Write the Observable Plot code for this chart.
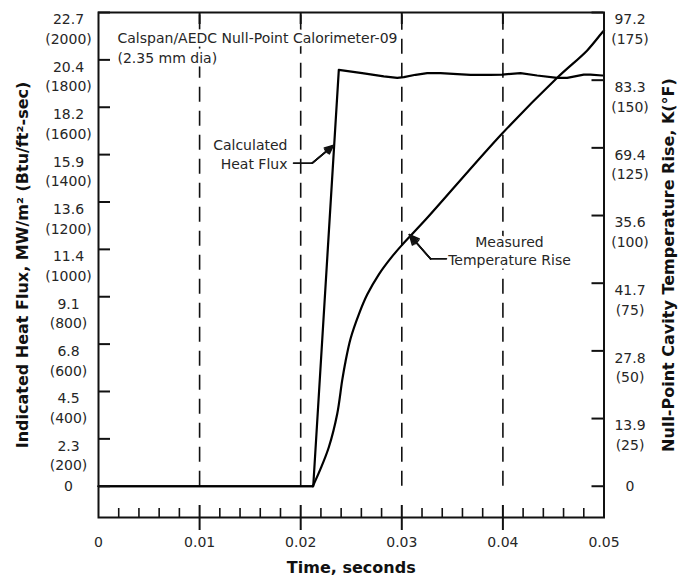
<!DOCTYPE html>
<html>
<head>
<meta charset="utf-8">
<script src="https://cdn.jsdelivr.net/npm/d3@7"></script>
<script src="https://cdn.jsdelivr.net/npm/@observablehq/plot@0.6"></script>
<style>
  html, body { margin: 0; padding: 0; background: #fff; }
  svg { display: block; }
</style>
</head>
<body>
<div id="chart"></div>
<script>
// ---- Data ----
// Calculated heat flux, Btu/ft^2-sec, vs time (s)
const fluxTime  = [0, 0.02124, 0.02377, 0.02608, 0.02822, 0.02955, 0.0302, 0.03136, 0.03251, 0.03383, 0.0355, 0.0368, 0.03877, 0.03993, 0.04174, 0.04339, 0.04537, 0.04636, 0.048, 0.04866, 0.04982, 0.05];
const fluxValue = [0, 0, 1758, 1744, 1730, 1724, 1727, 1737, 1744, 1744, 1740, 1737, 1737, 1738, 1744, 1734, 1724, 1724, 1738, 1738, 1734, 1734];

// Measured null-point cavity temperature rise, °F, vs time (s)
const tempTime  = [0, 0.0212, 0.02196, 0.02278, 0.02361, 0.0241, 0.02443, 0.02493, 0.02575, 0.02658, 0.02772, 0.02905, 0.03004, 0.03234, 0.03993, 0.04537, 0.04834, 0.04982, 0.05];
const tempValue = [0, 0, 6.4, 14.4, 26.7, 39.0, 46.0, 54.5, 63.5, 70.8, 78.2, 84.9, 89.2, 98.4, 130.3, 150.9, 161.0, 167.6, 168.3];

// Axes
const fluxTicks   = [0, 200, 400, 600, 800, 1000, 1200, 1400, 1600, 1800, 2000];
const fluxTickSI  = ["0", "2.3", "4.5", "6.8", "9.1", "11.4", "13.6", "15.9", "18.2", "20.4", "22.7"];
const tempTicks   = [0, 25, 50, 75, 100, 125, 150, 175];
const tempTickSI  = ["0", "13.9", "27.8", "41.7", "35.6", "69.4", "83.3", "97.2"];
const timeTicks   = [0, 0.01, 0.02, 0.03, 0.04, 0.05];
const timeTickLabels = ["0", "0.01", "0.02", "0.03", "0.04", "0.05"];
const gridTimes   = [0.01, 0.02, 0.03, 0.04];
const minorTimeTicks = [0.002, 0.004, 0.006, 0.008, 0.012, 0.014, 0.016, 0.018, 0.022, 0.024, 0.026, 0.028,
                        0.032, 0.034, 0.036, 0.038, 0.042, 0.044, 0.046, 0.048];

// Texts
const titleText = "Calspan/AEDC Null-Point Calorimeter-09\n(2.35 mm dia)";
const xTitle = "Time, seconds";
const yLeftTitle = "Indicated Heat Flux, MW/m\u00B2 (Btu/ft\u00B2-sec)";
const yRightTitle = "Null-Point Cavity Temperature Rise, K(\u00B0F)";
const fluxLabel = "Calculated\nHeat Flux";
const tempLabel = "Measured\nTemperature Rise";

// right axis: 175 °F sits at the top of the 2000 Btu/ft²-sec scale
const F_PER_DEGF = 2000 / 175;

// ---- Chart ----
const W = 695, H = 578, mL = 98, mR = 91.5, mT = 12, mB = 61;
const pw = W - mL - mR, ph = H - mT - mB;
const ink = "#111";
const txt = "#262626";

const fluxData = fluxTime.map((t, i) => ({t, v: fluxValue[i]}));
const tempData = tempTime.map((t, i) => ({t, v: tempValue[i] * F_PER_DEGF}));
// flat part (before onset) is drawn linearly, the rise smoothly
const tempFlat = tempData.filter(d => d.t <= 0.0212);
const tempRise = tempData.filter(d => d.t >= 0.0212);

// annotation anchors (time, heat-flux units)
const fluxNote = [{t: 0.01869, v: 1405, label: fluxLabel}];
const tempNote = [{t: 0.04065, v: 998, label: tempLabel}];
const fluxLeader = [{t: 0.01929, v: 1364}, {t: 0.02114, v: 1364}];
const fluxArrow = [{x1: 0.02114, y1: 1364, x2: 0.02321, y2: 1438}];
const tempLeader = [{t: 0.03442, v: 960}, {t: 0.03284, v: 960}];
const tempArrow = [{x1: 0.03284, y1: 960, x2: 0.03076, y2: 1062}];

function halo(data, opts) {
  return [
    Plot.text(data, {...opts, fill: "white", stroke: "white", strokeWidth: 7}),
    Plot.text(data, {...opts, fill: txt})
  ];
}
function arrowHead(data) {
  return [50, 34, 18].map(a => Plot.arrow(data, {x1: "x1", y1: "y1", x2: "x2", y2: "y2",
    stroke: ink, strokeWidth: 1.6, headLength: 10, headAngle: a}));
}

const fluxLabelFor = d => {
  const i = fluxTicks.indexOf(d);
  return d === 0 ? "0" : fluxTickSI[i] + "\n(" + d + ")";
};
const tempLabelFor = d => {
  const i = tempTicks.findIndex(v => Math.abs(v * F_PER_DEGF - d) < 1e-6);
  return tempTicks[i] === 0 ? "0" : tempTickSI[i] + "\n(" + tempTicks[i] + ")";
};

const chart = Plot.plot({
  width: W, height: H,
  marginLeft: mL, marginRight: mR, marginTop: mT, marginBottom: mB,
  style: {fontFamily: "DejaVu Sans", fontSize: "14px", color: txt, background: "white", overflow: "visible"},
  x: {domain: [0, 0.05]},
  y: {domain: [-132, 2000]},
  marks: [
    // dashed vertical grid lines
    Plot.ruleX(gridTimes, {x: d => d, y1: 0, y2: fluxTicks[fluxTicks.length - 1], stroke: ink, strokeWidth: 1.6, strokeDasharray: "15,9"}),

    // annotation texts (with white halo over grid)
    ...halo([titleText], {text: d => d, frameAnchor: "top-left", dx: 19, dy: 16, textAnchor: "start", lineAnchor: "top", lineHeight: 1.43}),
    ...halo(fluxNote, {x: "t", y: "v", text: "label", textAnchor: "end", lineAnchor: "middle", lineHeight: 1.4}),
    ...halo(tempNote, {x: "t", y: "v", text: "label", textAnchor: "middle", lineAnchor: "middle", lineHeight: 1.3}),

    // data lines
    Plot.line(fluxData, {x: "t", y: "v", stroke: "#000", strokeWidth: 2.2, strokeLinejoin: "round"}),
    Plot.line(tempFlat, {x: "t", y: "v", stroke: "#000", strokeWidth: 2.2}),
    Plot.line(tempRise, {x: "t", y: "v", curve: "catmull-rom", stroke: "#000", strokeWidth: 2.2, strokeLinejoin: "round"}),

    // leaders
    Plot.line(fluxLeader, {x: "t", y: "v", stroke: ink, strokeWidth: 1.6}),
    ...arrowHead(fluxArrow),
    Plot.line(tempLeader, {x: "t", y: "v", stroke: ink, strokeWidth: 1.6}),
    ...arrowHead(tempArrow),

    // inward ticks
    Plot.tickY(fluxTicks, {y: d => d, insetRight: pw - 12, stroke: ink, strokeWidth: 2}),
    Plot.tickY(tempTicks, {y: d => d * F_PER_DEGF, insetLeft: pw - 12, stroke: ink, strokeWidth: 2}),
    Plot.tickX(gridTimes, {x: d => d, insetBottom: ph - 12, stroke: ink, strokeWidth: 2}),
    Plot.tickX(minorTimeTicks, {x: d => d, insetTop: ph - 9, stroke: ink, strokeWidth: 1.6}),
    Plot.tickX(gridTimes, {x: d => d, insetTop: ph - 12, insetBottom: -13, stroke: ink, strokeWidth: 2}),

    // axes labels
    Plot.axisX(timeTicks, {anchor: "bottom", tickSize: 0, tickPadding: 20, label: null,
      tickFormat: d => timeTickLabels[timeTicks.indexOf(d)]}),
    Plot.axisY([0], {anchor: "left", tickSize: 0, tickPadding: 30, textAnchor: "middle", label: null, tickFormat: fluxLabelFor}),
    Plot.axisY(fluxTicks.slice(1), {anchor: "left", tickSize: 0, tickPadding: 30, textAnchor: "middle",
      lineAnchor: "top", dy: -2, lineHeight: 1.4, label: null, tickFormat: fluxLabelFor}),
    Plot.axisY([0], {anchor: "right", tickSize: 0, tickPadding: 26, textAnchor: "middle", label: null, tickFormat: tempLabelFor}),
    Plot.axisY(tempTicks.slice(1).map(v => v * F_PER_DEGF), {anchor: "right", tickSize: 0, tickPadding: 26, textAnchor: "middle",
      lineAnchor: "top", dy: -2, lineHeight: 1.4, label: null, tickFormat: tempLabelFor}),

    // frame
    Plot.frame({stroke: ink, strokeWidth: 2}),

    // axis titles
    Plot.text([xTitle], {text: d => d, frameAnchor: "bottom", dy: 50, fontWeight: "bold", fontSize: 16, fill: "#111", lineAnchor: "middle"}),
    Plot.text([yLeftTitle], {text: d => d, frameAnchor: "left", dx: -76, rotate: -90, fontWeight: "bold", fontSize: 16, fill: "#111", textAnchor: "middle"}),
    Plot.text([yRightTitle], {text: d => d, frameAnchor: "right", dx: 65, rotate: -90, fontWeight: "bold", fontSize: 16, fill: "#111", textAnchor: "middle"})
  ]
});

document.getElementById("chart").appendChild(chart);
</script>
</body>
</html>
